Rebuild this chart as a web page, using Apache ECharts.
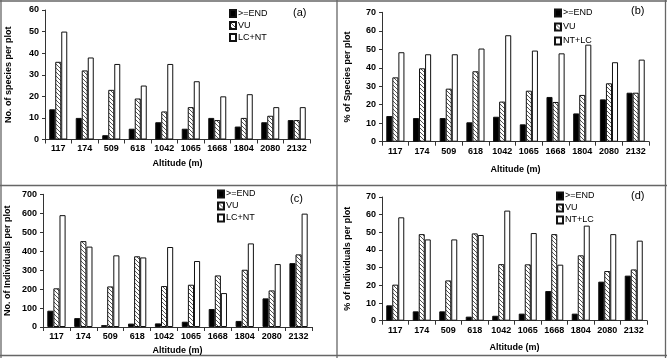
<!DOCTYPE html>
<html>
<head>
<meta charset="utf-8">
<script src="https://cdn.jsdelivr.net/npm/echarts@6/dist/echarts.min.js"></script>
<style>
  html, body { margin: 0; padding: 0; background: #fff; }
  #chart { width: 667px; height: 358px; }
</style>
</head>
<body>
<div id="chart"></div>
<script>
const altitudes = ['117', '174', '509', '618', '1042', '1065', '1668', '1804', '2080', '2132'];

// (a) number of species per plot
const spEnd = [14, 10, 2, 5, 8, 5, 10, 6, 8, 9];
const spVu = [36, 32, 23, 19, 13, 15, 9, 10, 11, 9];
const spLc = [50, 38, 35, 25, 35, 27, 20, 21, 15, 15];

// (b) % of species per plot
const spPctEnd = [13.9, 12.8, 12.8, 10.5, 13.5, 9.4, 24.2, 15.3, 22.9, 26.5];
const spPctVu = [34.8, 39.7, 28.7, 38.1, 21.7, 27.6, 21.5, 25.3, 31.6, 26.5];
const spPctLc = [48.4, 47.3, 47.3, 50.4, 57.6, 49.3, 47.8, 52.5, 43, 44.4];

// (c) number of individuals per plot
const indEnd = [86, 47, 10, 18, 19, 28, 95, 32, 151, 337];
const indVu = [204, 453, 214, 373, 216, 223, 272, 302, 193, 383];
const indLc = [590, 424, 378, 367, 422, 348, 179, 441, 332, 598];

// (d) % of individuals per plot
const indPctEnd = [8.7, 5.3, 5.3, 2.3, 2.8, 4, 16.8, 4, 22.1, 25.5];
const indPctVu = [20.4, 49, 22.8, 49.4, 32, 31.9, 49, 37, 28.1, 29];
const indPctLc = [58.5, 46, 46, 48.5, 62.3, 49.6, 31.7, 53.8, 49, 45.3];

const FONT = '"Liberation Sans", Arial, sans-serif';

// diagonal hatch for VU bars
const hatch = document.createElement('canvas');
hatch.width = 4;
hatch.height = 4;
const hctx = hatch.getContext('2d');
hctx.fillStyle = '#fff';
hctx.fillRect(0, 0, 4, 4);
hctx.strokeStyle = '#555';
hctx.lineWidth = 1;
hctx.beginPath();
hctx.moveTo(-1, -1); hctx.lineTo(5, 5);
hctx.moveTo(-1, 3); hctx.lineTo(1, 5);
hctx.moveTo(3, -1); hctx.lineTo(5, 1);
hctx.stroke();

const panels = [
  { grid: { left: 45, top: 10, width: 265, height: 129.5 }, max: 60, step: 10,
    yName: 'No. of species per plot', yGap: 32, xGap: 20, lcName: 'LC+NT',
    data: [spEnd, spVu, spLc], legend: { left: 229, top: 9, itemGap: 3 }, tag: '(a)', tagPos: [293, 7] },
  { grid: { left: 382, top: 12.3, width: 267, height: 129.4 }, max: 70, step: 10,
    yName: '% of Species per plot', yGap: 30, xGap: 23, lcName: 'NT+LC',
    data: [spPctEnd, spPctVu, spPctLc], legend: { left: 554, top: 8.5, itemGap: 5 }, tag: '(b)', tagPos: [631, 5] },
  { grid: { left: 43, top: 194.3, width: 269, height: 132.7 }, max: 700, step: 100,
    yName: 'No. of Individuals per plot', yGap: 31, xGap: 19, lcName: 'LC+NT',
    data: [indEnd, indVu, indLc], legend: { left: 217, top: 189.5, itemGap: 3 }, tag: '(c)', tagPos: [290, 193] },
  { grid: { left: 382, top: 197, width: 265, height: 123.7 }, max: 70, step: 10,
    yName: '% of Individuals per plot', yGap: 30, xGap: 22, lcName: 'NT+LC',
    data: [indPctEnd, indPctVu, indPctLc], legend: { left: 556, top: 191.5, itemGap: 3 }, tag: '(d)', tagPos: [631, 190] }
];

const grids = [], xAxes = [], yAxes = [], series = [], legends = [], graphics = [];

panels.forEach((p, i) => {
  grids.push(Object.assign({ outerBoundsMode: 'none', containLabel: false }, p.grid));
  xAxes.push({
    type: 'category', gridIndex: i, data: altitudes,
    name: 'Altitude (m)', nameLocation: 'middle', nameGap: p.xGap,
    nameTextStyle: { fontFamily: FONT, fontWeight: 'bold', fontSize: 9, color: '#000' },
    axisLine: { lineStyle: { color: '#333', width: 1 } },
    axisTick: { show: true, length: 4, lineStyle: { color: '#333' } },
    axisLabel: { interval: 0, margin: 5, fontFamily: FONT, fontWeight: 'bold', fontSize: 9, color: '#000' }
  });
  yAxes.push({
    type: 'value', gridIndex: i, min: 0, max: p.max, interval: p.step,
    name: p.yName, nameLocation: 'middle', nameGap: p.yGap, nameRotate: 90,
    nameTextStyle: { fontFamily: FONT, fontWeight: 'bold', fontSize: 9, color: '#000' },
    axisLine: { show: true, lineStyle: { color: '#333', width: 1 } },
    axisTick: { show: true, length: 3, lineStyle: { color: '#333' } },
    splitLine: { show: false },
    axisLabel: { margin: 6, fontFamily: FONT, fontWeight: 'bold', fontSize: 9, color: '#000' }
  });
  const names = ['>=END', 'VU', p.lcName];
  const fills = ['#000', { image: hatch, repeat: 'repeat' }, '#fff'];
  names.forEach((n, k) => {
    series.push({
      type: 'bar', name: n, xAxisIndex: i, yAxisIndex: i, data: p.data[k],
      barGap: '0%', barCategoryGap: '32%',
      itemStyle: { color: fills[k], borderColor: '#111', borderWidth: 1 },
      emphasis: { disabled: true }
    });
  });
  legends.push({
    orient: 'vertical', left: p.legend.left, top: p.legend.top, itemGap: p.legend.itemGap,
    padding: 0, itemWidth: 6, itemHeight: 7, icon: 'rect', selectedMode: false,
    data: names,
    textStyle: { fontFamily: FONT, fontSize: 9, color: '#000', padding: [0, 0, 0, -3] }
  });
  graphics.push({
    type: 'text', left: p.tagPos[0], top: p.tagPos[1],
    style: { text: p.tag, font: '11px ' + FONT, fill: '#000' }
  });
});

// panel frame lines
const frame = [
  [1, 0, 1, 358], [0, 1, 667, 1], [665.5, 0, 665.5, 358], [0, 355.5, 667, 355.5],
  [337, 0, 337, 358], [0, 185.5, 667, 185.5]
];
frame.forEach(f => {
  graphics.push({
    type: 'line', shape: { x1: f[0], y1: f[1], x2: f[2], y2: f[3] },
    style: { stroke: '#666', lineWidth: 1.3 }, silent: true
  });
});

const chart = echarts.init(document.getElementById('chart'), null, { renderer: 'canvas' });
chart.setOption({
  animation: false,
  backgroundColor: '#fff',
  grid: grids,
  xAxis: xAxes,
  yAxis: yAxes,
  legend: legends,
  series: series,
  graphic: graphics
});
</script>
</body>
</html>
